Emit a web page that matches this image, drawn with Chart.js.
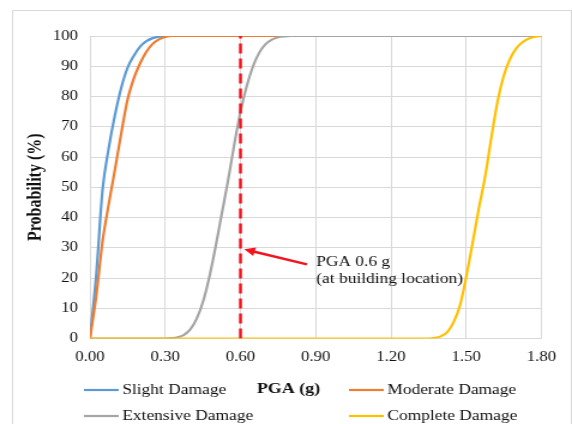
<!DOCTYPE html>
<html>
<head>
<meta charset="utf-8">
<script src="https://cdn.jsdelivr.net/npm/chart.js@4.4.0/dist/chart.umd.min.js"></script>
<style>
  html, body { margin: 0; padding: 0; background: #fff; }
</style>
</head>
<body>
<!-- the source picture is stretched sideways, so the canvas is drawn narrow and widened by inline css -->
<canvas id="chart" width="477" height="424" style="display:block;width:572px;height:424px"></canvas>
<script>
// values (PGA in g, probability in %)
const slightPGA = [0, 0.025, 0.05, 0.075, 0.1, 0.125, 0.15, 0.175, 0.2, 0.225, 0.25, 0.275, 0.3, 1.8];
const slightProb = [0, 21, 49, 63, 74, 83, 89.5, 93.5, 96.5, 98.3, 99.3, 99.8, 100, 100];

const moderatePGA = [0, 0.025, 0.05, 0.075, 0.1, 0.125, 0.15, 0.175, 0.2, 0.225, 0.25, 0.275, 0.3, 0.325, 1.8];
const moderateProb = [0, 14, 32, 44.5, 56, 68, 79, 86, 91, 94.8, 97.4, 98.9, 99.7, 100, 100];

const extensivePGA = [0, 0.3, 0.325, 0.35, 0.375, 0.4, 0.425, 0.45, 0.475, 0.5, 0.525, 0.55, 0.575, 0.6, 0.625, 0.65, 0.675, 0.7, 0.725, 0.75, 0.775, 0.8, 1.8];
const extensiveProb = [0, 0, 0.1, 0.4, 1.2, 3, 6.5, 12, 20, 30, 41, 52, 64, 75, 83.5, 90, 94.5, 97.3, 98.8, 99.6, 99.9, 100, 100];

const completePGA = [0, 1.35, 1.375, 1.4, 1.425, 1.45, 1.475, 1.5, 1.525, 1.55, 1.575, 1.6, 1.625, 1.65, 1.675, 1.7, 1.725, 1.75, 1.775, 1.8];
const completeProb = [0, 0, 0.2, 0.8, 2.2, 5.5, 11, 20.5, 31.5, 43, 53.5, 66.5, 78.5, 87, 92.5, 96, 98, 99.2, 99.8, 100];

const seriesNames = ['Slight Damage', 'Moderate Damage', 'Extensive Damage', 'Complete Damage'];
const seriesColors = ['#5b9bd5', '#ed7d31', '#a5a5a5', '#ffc000'];

// building location marker
const sitePGA = 0.6;
const arrowFrom = [0.865, 24.5];
const arrowTo = [0.615, 29.5];
const noteLines = ['PGA 0.6 g', '(at building location)'];
const notePos = [[0.902, 25.3], [0.902, 19.7]];

const xTicksMax = 1.8;
const serif = '"Liberation Serif", "Times New Roman", serif';

function toPoints(xs, ys) {
    return xs.map((v, i) => ({ x: v, y: ys[i] }));
}

function curve(i, xs, ys) {
    return {
        label: seriesNames[i],
        data: toPoints(xs, ys),
        borderColor: seriesColors[i],
        borderWidth: 2.2,
        pointRadius: 0,
        cubicInterpolationMode: 'monotone',
        order: 4 - i
    };
}

// draws the frame, the arrow + note, the x title and the legend
const extras = {
    id: 'extras',
    beforeDraw(chart) {
        const ctx = chart.ctx;
        ctx.save();
        ctx.fillStyle = '#fff';
        ctx.fillRect(0, 0, chart.width, chart.height);
        ctx.strokeStyle = '#d9d9d9';
        ctx.lineWidth = 1;
        ctx.strokeRect(10.5, 10.5, chart.width - 11, chart.height + 20);
        ctx.restore();
    },
    afterDraw(chart) {
        const ctx = chart.ctx;
        const sx = chart.scales.x, sy = chart.scales.y;
        ctx.save();

        // arrow
        const x1 = sx.getPixelForValue(arrowFrom[0]), y1 = sy.getPixelForValue(arrowFrom[1]);
        const x2 = sx.getPixelForValue(arrowTo[0]), y2 = sy.getPixelForValue(arrowTo[1]);
        const ang = Math.atan2(y2 - y1, x2 - x1);
        const head = 10;
        ctx.strokeStyle = '#f2141e';
        ctx.fillStyle = '#f2141e';
        ctx.lineWidth = 2.4;
        ctx.beginPath();
        ctx.moveTo(x1, y1);
        ctx.lineTo(x2 - Math.cos(ang) * head * 0.8, y2 - Math.sin(ang) * head * 0.8);
        ctx.stroke();
        ctx.beginPath();
        ctx.moveTo(x2, y2);
        ctx.lineTo(x2 - Math.cos(ang - 0.45) * head, y2 - Math.sin(ang - 0.45) * head);
        ctx.lineTo(x2 - Math.cos(ang + 0.45) * head, y2 - Math.sin(ang + 0.45) * head);
        ctx.closePath();
        ctx.fill();

        // note text
        ctx.fillStyle = '#111';
        ctx.font = '14.5px ' + serif;
        ctx.textAlign = 'left';
        ctx.textBaseline = 'middle';
        noteLines.forEach((t, i) => {
            ctx.fillText(t, sx.getPixelForValue(notePos[i][0]), sy.getPixelForValue(notePos[i][1]));
        });

        // x axis title
        ctx.font = 'bold 15px ' + serif;
        ctx.textAlign = 'center';
        ctx.fillText('PGA (g)', 240.6, 389);

        // legend, two columns
        const cols = [70, 291];
        const rows = [390, 416];
        ctx.font = '14.5px ' + serif;
        ctx.textAlign = 'left';
        for (let i = 0; i < seriesNames.length; i++) {
            const lx = cols[i % 2], ly = rows[Math.floor(i / 2)];
            ctx.strokeStyle = seriesColors[i];
            ctx.lineWidth = 2.2;
            ctx.beginPath();
            ctx.moveTo(lx, ly);
            ctx.lineTo(lx + 29, ly);
            ctx.stroke();
            ctx.fillStyle = '#111';
            ctx.fillText(seriesNames[i], lx + 32, ly);
        }
        ctx.restore();
    }
};

const ctx = document.getElementById('chart').getContext('2d');
const myChart = new Chart(ctx, {
    type: 'line',
    data: {
        datasets: [
            curve(0, slightPGA, slightProb),
            curve(1, moderatePGA, moderateProb),
            curve(2, extensivePGA, extensiveProb),
            curve(3, completePGA, completeProb),
            {
                label: 'site',
                data: [{ x: sitePGA, y: 0 }, { x: sitePGA, y: 100 }],
                borderColor: '#f2141e',
                borderWidth: 2.5,
                borderDash: [10, 5],
                pointRadius: 0,
                tension: 0,
                order: 0
            }
        ]
    },
    options: {
        responsive: false,
        animation: false,
        devicePixelRatio: 1,
        events: [],
        layout: { padding: { top: 36, right: 25.4, left: 0, bottom: 0 } },
        plugins: { legend: { display: false }, tooltip: { enabled: false } },
        scales: {
            x: {
                type: 'linear',
                min: 0,
                max: xTicksMax,
                afterFit: s => { s.height = 85.5; },
                grid: { color: '#d9d9d9', drawTicks: false },
                border: { color: '#d9d9d9' },
                ticks: {
                    stepSize: 0.3,
                    padding: 10,
                    color: '#111',
                    font: { family: serif, size: 14 },
                    callback: v => Number(v).toFixed(2)
                }
            },
            y: {
                min: 0,
                max: 100,
                afterFit: s => { s.width = 75; },
                grid: { color: '#d9d9d9', drawTicks: false },
                border: { color: '#d9d9d9' },
                ticks: {
                    stepSize: 10,
                    padding: 10,
                    color: '#111',
                    font: { family: serif, size: 14 }
                },
                title: {
                    display: true,
                    text: 'Probability (%)',
                    color: '#111',
                    font: { family: serif, size: 16, weight: 'bold' },
                    padding: { top: 20.4, bottom: 0 }
                }
            }
        }
    },
    plugins: [extras]
});
</script>
</body>
</html>
